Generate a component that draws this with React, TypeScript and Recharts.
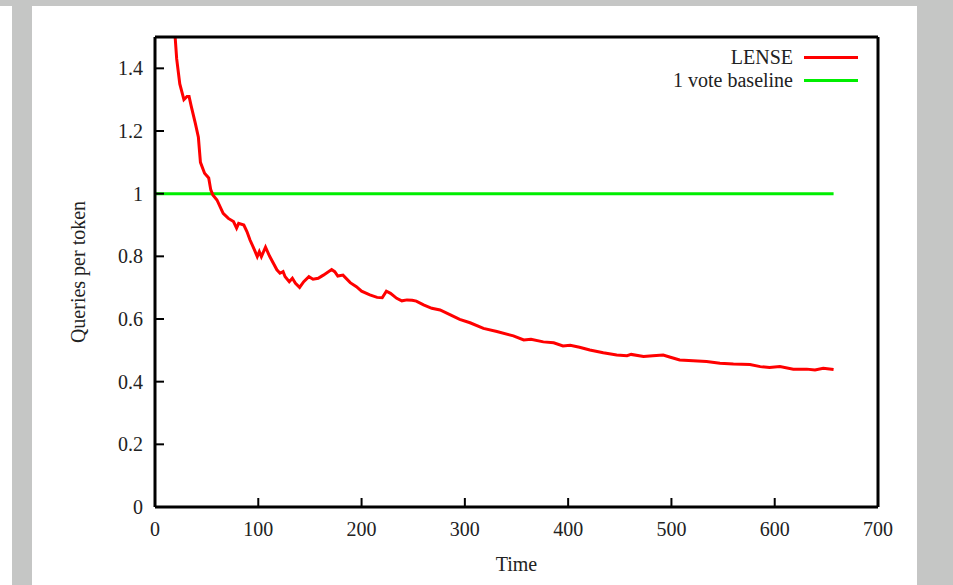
import React from 'react';
import { LineChart, Line, XAxis, YAxis, Legend, Label } from 'recharts';

// LENSE curve
const lenseTime = [
  18, 21, 24, 28, 31, 33, 35, 39, 42, 44, 48, 52, 54, 56, 60, 66, 71, 76, 79, 81,
  86, 89, 92, 95, 97, 99, 101, 103, 107, 111, 118, 121, 124, 126, 130, 133, 136, 140, 144, 149,
  153, 158, 163, 171, 174, 177, 182, 189, 195, 200, 208, 215, 220, 224, 228, 234, 239, 244, 249, 253,
  260, 268, 276, 286, 295, 305, 318, 331, 347, 357, 364, 376, 386, 395, 402, 411, 421, 434, 447, 457,
  461, 473, 482, 492, 499, 508, 521, 534, 547, 560, 576, 586, 595, 605, 618, 631, 639, 647, 657,
];
const lenseQueries = [
  1.57, 1.43, 1.35, 1.3, 1.31, 1.31, 1.28, 1.225, 1.18, 1.1, 1.065, 1.05, 1.012, 0.996, 0.98, 0.937, 0.921, 0.911, 0.89, 0.905,
  0.9, 0.879, 0.852, 0.83, 0.815, 0.799, 0.815, 0.799, 0.829, 0.8, 0.757, 0.746, 0.751, 0.735, 0.719, 0.73, 0.714, 0.701, 0.719, 0.735,
  0.727, 0.73, 0.74, 0.758, 0.751, 0.737, 0.74, 0.716, 0.703, 0.689, 0.677, 0.669, 0.668, 0.689, 0.682, 0.666, 0.658, 0.661, 0.66, 0.657,
  0.645, 0.634, 0.629, 0.613, 0.599, 0.588, 0.57, 0.56, 0.546, 0.533, 0.535, 0.527, 0.524, 0.514, 0.516, 0.51, 0.501, 0.492, 0.485, 0.483,
  0.487, 0.48, 0.483, 0.485, 0.478, 0.469, 0.467, 0.464, 0.459, 0.456, 0.455, 0.448, 0.445, 0.448, 0.44, 0.44, 0.437, 0.443, 0.439,
];

// 1 vote baseline
const baselineTime = [0, 657];
const baselineQueries = [1, 1];

const xTicks = [0, 100, 200, 300, 400, 500, 600, 700];
const yTicks = [0, 0.2, 0.4, 0.6, 0.8, 1, 1.2, 1.4];

const lenseData = lenseTime.map((t, i) => ({ t, v: lenseQueries[i] }));
const baselineData = baselineTime.map((t, i) => ({ t, v: baselineQueries[i] }));

const FONT = '"Liberation Serif", "DejaVu Serif", serif';
const FS = 20;
const tickFont = { fontSize: FS, fill: '#222', fontFamily: FONT };

const legendItems = [
  { name: 'LENSE', color: '#ff0000' },
  { name: '1 vote baseline', color: '#00ee00' },
];

function KeyBox() {
  return (
    <div style={{ fontFamily: FONT, fontSize: FS, color: '#222' }}>
      {legendItems.map((it) => (
        <div key={it.name} style={{ display: 'flex', justifyContent: 'flex-end', alignItems: 'center', height: 23 }}>
          <span style={{ lineHeight: '23px' }}>{it.name}</span>
          <span style={{ display: 'inline-block', width: 54, height: 3, background: it.color, marginLeft: 11 }} />
        </div>
      ))}
    </div>
  );
}

export default function App() {
  return (
    <div style={{ position: 'absolute', left: 0, top: 0, width: 953, height: 585, background: '#fff', overflow: 'hidden' }}>
      {/* gray page frame around the figure */}
      <div style={{ position: 'absolute', left: 0, top: 0, width: 953, height: 6, background: '#c5c6c5' }} />
      <div style={{ position: 'absolute', left: 12, top: 0, width: 20, height: 585, background: '#c5c6c5' }} />
      <div style={{ position: 'absolute', left: 917, top: 0, width: 36, height: 585, background: '#c5c6c5' }} />
      <div style={{ position: 'absolute', left: 0, top: 0 }}>
        <LineChart width={953} height={585} margin={{ top: 36, right: 74, bottom: 0, left: 1 }} style={{ fontFamily: FONT }}>
          <XAxis
            dataKey="t"
            type="number"
            domain={[0, 700]}
            ticks={xTicks}
            height={78}
            tickSize={-9}
            tickMargin={24}
            axisLine={{ stroke: '#000', strokeWidth: 3 }}
            tickLine={{ stroke: '#000', strokeWidth: 2 }}
            tick={tickFont}
            allowDataOverflow
          >
            <Label value="Time" position="insideBottom" offset={14} style={{ fontSize: FS, fill: '#222', fontFamily: FONT }} />
          </XAxis>
          <XAxis
            xAxisId="top"
            orientation="top"
            type="number"
            domain={[0, 700]}
            ticks={xTicks}
            height={1}
            tickSize={-9}
            tick={false}
            axisLine={{ stroke: '#000', strokeWidth: 3 }}
            tickLine={{ stroke: '#000', strokeWidth: 2 }}
            allowDataOverflow
          />
          <YAxis
            type="number"
            domain={[0, 1.5]}
            ticks={yTicks}
            width={154}
            tickSize={-9}
            tickMargin={21}
            axisLine={{ stroke: '#000', strokeWidth: 3 }}
            tickLine={{ stroke: '#000', strokeWidth: 2 }}
            tick={tickFont}
            allowDataOverflow
          >
            <Label value="Queries per token" angle={-90} position="center" style={{ fontSize: FS, fill: '#222', fontFamily: FONT, textAnchor: 'middle' }} />
          </YAxis>
          <YAxis
            yAxisId="right"
            orientation="right"
            type="number"
            domain={[0, 1.5]}
            ticks={yTicks}
            width={1}
            tickSize={-9}
            tick={false}
            axisLine={{ stroke: '#000', strokeWidth: 3 }}
            tickLine={{ stroke: '#000', strokeWidth: 2 }}
            allowDataOverflow
          />
          <Legend
            layout="horizontal"
            verticalAlign="middle"
            align="center"
            content={() => <KeyBox />}
            wrapperStyle={{ top: 46, left: 600, width: 258, height: 46 }}
          />
          <Line
            data={baselineData}
            dataKey="v"
            name="1 vote baseline"
            type="linear"
            stroke="#00ee00"
            strokeWidth={3}
            dot={false}
            activeDot={false}
            isAnimationActive={false}
          />
          <Line
            data={lenseData}
            dataKey="v"
            name="LENSE"
            type="linear"
            stroke="#ff0000"
            strokeWidth={3}
            dot={false}
            activeDot={false}
            isAnimationActive={false}
          />
        </LineChart>
      </div>
    </div>
  );
}
